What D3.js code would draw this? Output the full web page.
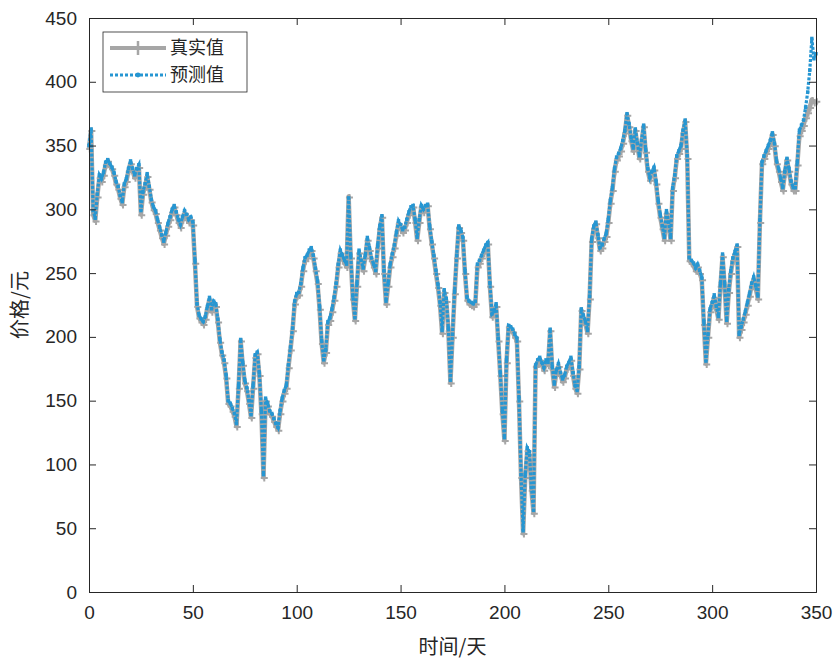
<!DOCTYPE html>
<html>
    <head>
        <meta charset="utf-8">
        <script src="https://cdnjs.cloudflare.com/ajax/libs/d3/7.8.5/d3.min.js"></script>
        <title>价格预测</title>
        <style>
            html, body {
                margin: 0;
                background: white;
            }
            .svg_canvas {
                display: block;
            }
            .tick text {
                font-family: "Liberation Sans", Arial, sans-serif;
                font-size: 19px;
                fill: #262626;
            }
            .cn {
                font-family: "Noto Sans CJK SC", sans-serif;
                font-size: 20px;
                fill: #262626;
            }
            .legend-text {
                font-family: "Noto Sans CJK SC", sans-serif;
                font-size: 18px;
                fill: #262626;
            }
        </style>
    </head>
    <body>
        <svg height="664" width="835" class="svg_canvas"></svg>

        <script>
            // daily values, day 0 .. 350
            var trueValues = [
                348, 362, 296, 291, 310, 325, 322, 327, 335, 338,
                334, 332, 327, 320, 316, 309, 304, 318, 322, 330,
                336, 330, 325, 330, 333, 296, 312, 318, 326, 316,
                306, 300, 297, 290, 284, 278, 273, 280, 287, 292,
                298, 302, 296, 290, 286, 292, 297, 294, 290, 292,
                288, 258, 224, 215, 212, 210, 214, 222, 229, 220,
                226, 224, 212, 196, 186, 180, 168, 148, 146, 142,
                138, 130, 160, 197, 178, 164, 158, 148, 137, 160,
                184, 187, 170, 140, 90, 150, 146, 140, 138, 134,
                130, 127, 140, 150, 156, 160, 176, 190, 205, 226,
                232, 233, 240, 252, 260, 262, 266, 268, 262, 252,
                242, 222, 195, 180, 188, 210, 213, 220, 229, 240,
                255, 266, 262, 258, 255, 310, 262, 230, 213, 240,
                266, 258, 252, 262, 276, 268, 260, 255, 250, 270,
                285, 294, 250, 226, 240, 255, 263, 270, 280, 289,
                286, 282, 284, 290, 296, 300, 302, 290, 276, 290,
                302, 298, 302, 303, 285, 273, 262, 250, 239, 225,
                203, 235, 228, 205, 164, 200, 234, 262, 286, 282,
                276, 250, 229, 226, 225, 224, 226, 255, 258, 262,
                266, 270, 273, 240, 216, 218, 224, 197, 170, 140,
                119, 180, 208, 206, 204, 200, 197, 150, 90, 46,
                90, 111, 108, 80, 62, 177, 180, 182, 178, 174,
                180, 178, 205, 175, 161, 172, 177, 170, 165, 168,
                175, 178, 182, 170, 160, 156, 175, 221, 215, 210,
                203, 230, 275, 285, 289, 278, 268, 270, 275, 279,
                290, 305, 315, 330, 339, 342, 346, 352, 360, 374,
                365, 354, 346, 362, 350, 340, 352, 365, 345, 330,
                323, 328, 331, 320, 305, 294, 285, 276, 297, 288,
                276, 315, 325, 340, 344, 348, 360, 369, 340, 260,
                258, 256, 252, 255, 250, 245, 210, 179, 200, 220,
                225, 231, 222, 214, 240, 263, 240, 211, 235, 250,
                260, 265, 271, 200, 206, 212, 218, 225, 232, 240,
                245, 238, 230, 290, 336, 340, 344, 348, 352, 359,
                350, 336, 330, 322, 315, 328, 339, 330, 320, 315,
                315, 335, 358, 362, 366, 372, 376, 380, 386, 384,
                385
            ];

            var predValues = [
                350, 363, 299, 293, 312, 327, 324, 329, 337, 339,
                336, 333, 329, 322, 318, 311, 306, 320, 324, 332,
                338, 332, 327, 332, 335, 299, 314, 320, 328, 318,
                308, 302, 299, 292, 286, 280, 275, 282, 289, 294,
                300, 303, 298, 292, 288, 294, 299, 296, 292, 294,
                290, 260, 226, 217, 214, 212, 216, 224, 231, 222,
                228, 226, 214, 198, 188, 182, 170, 150, 148, 144,
                140, 132, 162, 198, 180, 166, 160, 150, 139, 162,
                186, 188, 172, 142, 92, 152, 148, 142, 140, 136,
                132, 129, 142, 152, 158, 162, 178, 192, 207, 228,
                234, 235, 242, 254, 262, 264, 268, 270, 264, 254,
                244, 224, 197, 182, 190, 212, 215, 222, 231, 242,
                257, 268, 264, 260, 257, 309, 264, 232, 215, 242,
                268, 260, 254, 264, 278, 270, 262, 257, 252, 272,
                287, 295, 252, 228, 242, 257, 265, 272, 282, 291,
                288, 284, 286, 292, 298, 302, 303, 292, 278, 292,
                303, 300, 303, 304, 287, 275, 264, 252, 241, 227,
                205, 237, 230, 207, 166, 202, 236, 264, 287, 284,
                278, 252, 231, 228, 227, 226, 228, 257, 260, 264,
                268, 272, 274, 242, 218, 220, 226, 199, 172, 142,
                121, 182, 209, 208, 206, 202, 199, 152, 92, 48,
                92, 113, 110, 82, 64, 178, 182, 184, 180, 176,
                182, 180, 206, 177, 163, 174, 179, 172, 167, 170,
                177, 180, 184, 172, 162, 158, 177, 222, 217, 212,
                205, 232, 277, 287, 290, 280, 270, 272, 277, 281,
                292, 307, 317, 332, 341, 344, 348, 354, 362, 375,
                367, 356, 348, 363, 352, 342, 354, 366, 347, 332,
                325, 330, 333, 322, 307, 296, 287, 278, 299, 290,
                278, 317, 327, 342, 346, 350, 362, 370, 342, 262,
                260, 258, 254, 257, 252, 247, 212, 181, 202, 222,
                227, 233, 224, 216, 242, 265, 242, 213, 237, 252,
                262, 267, 272, 202, 208, 214, 220, 227, 234, 242,
                247, 240, 232, 292, 337, 342, 346, 350, 354, 360,
                352, 338, 332, 324, 317, 330, 340, 332, 322, 317,
                317, 337, 362, 366, 370, 380, 392, 409, 434, 418,
                422
            ];

            var xTicks = [0, 50, 100, 150, 200, 250, 300, 350];
            var yTicks = [0, 50, 100, 150, 200, 250, 300, 350, 400, 450];
            var seriesNames = ["真实值", "预测值"];

            var grayColor = "#a6a6a6";
            var blueColor = "#2696d2";
            var axisColor = "#262626";

            var margin = {top: 18, right: 19, bottom: 72, left: 89};
            var width = 835 - margin.left - margin.right;
            var height = 664 - margin.top - margin.bottom;

            var svg = d3.select("svg")
                .append("g")
                .attr("transform", "translate(" + margin.left + "," + margin.top + ")");

            var x = d3.scaleLinear().domain([0, 350]).range([0, width]);
            var y = d3.scaleLinear().domain([0, 450]).range([height, 0]);

            var line = d3.line()
                .x(function(d, i){ return x(i); })
                .y(function(d){ return y(d); });

            // true series: thick gray line with + markers
            svg.append("path")
                .datum(trueValues)
                .attr("d", line)
                .attr("fill", "none")
                .attr("stroke", grayColor)
                .attr("stroke-width", 4.5)
                .attr("stroke-linejoin", "round");

            svg.append("g")
                .selectAll("path")
                .data(trueValues)
                .enter()
                .append("path")
                .attr("d", "M-3.5,0H3.5M0,-3.5V3.5")
                .attr("transform", function(d, i){ return "translate(" + (x(i) + 0.8) + "," + (y(d) + 0.8) + ")"; })
                .attr("stroke", grayColor)
                .attr("stroke-width", 2);

            // predicted series: blue dotted line with point markers
            svg.append("path")
                .datum(predValues)
                .attr("d", line)
                .attr("fill", "none")
                .attr("stroke", blueColor)
                .attr("stroke-width", 3.2)
                .attr("stroke-dasharray", "3,1.6");

            svg.append("g")
                .selectAll("rect")
                .data(predValues)
                .enter()
                .append("rect")
                .attr("x", function(d, i){ return x(i) - 1.7; })
                .attr("y", function(d){ return y(d) - 1.7; })
                .attr("width", 3.4)
                .attr("height", 3.4)
                .attr("fill", blueColor);

            // axes, MATLAB style box with inward ticks
            svg.append("g")
                .attr("transform", "translate(0," + height + ")")
                .call(d3.axisBottom(x).tickValues(xTicks).tickSize(-7).tickPadding(14));
            svg.append("g")
                .call(d3.axisTop(x).tickValues(xTicks).tickSize(-7).tickFormat(""));
            svg.append("g")
                .call(d3.axisLeft(y).tickValues(yTicks).tickSize(-7).tickPadding(12));
            svg.append("g")
                .attr("transform", "translate(" + width + ",0)")
                .call(d3.axisRight(y).tickValues(yTicks).tickSize(-7).tickFormat(""));

            svg.selectAll(".domain").attr("stroke", axisColor).attr("stroke-width", 1);
            svg.selectAll(".tick line").attr("stroke", axisColor);
            svg.selectAll(".tick text").attr("fill", axisColor);

            // axis titles
            svg.append("text")
                .attr("class", "cn")
                .attr("x", width / 2)
                .attr("y", height + 62)
                .attr("text-anchor", "middle")
                .text("时间/天");

            svg.append("text")
                .attr("class", "cn")
                .attr("transform", "translate(-62," + (height / 2) + ") rotate(-90)")
                .attr("text-anchor", "middle")
                .text("价格/元");

            // legend
            var legend = svg.append("g").attr("transform", "translate(14,14)");
            legend.append("rect")
                .attr("width", 144)
                .attr("height", 60)
                .attr("fill", "white")
                .attr("stroke", axisColor)
                .attr("stroke-width", 0.8);

            var row1 = legend.append("g").attr("transform", "translate(0,16)");
            row1.append("line")
                .attr("x1", 7).attr("x2", 63)
                .attr("stroke", grayColor).attr("stroke-width", 4);
            row1.append("path")
                .attr("d", "M35,-7V7M29,0H41")
                .attr("stroke", grayColor).attr("stroke-width", 2.5);
            row1.append("text")
                .attr("class", "legend-text")
                .attr("x", 67).attr("y", 6)
                .text(seriesNames[0]);

            var row2 = legend.append("g").attr("transform", "translate(0,43)");
            row2.append("line")
                .attr("x1", 7).attr("x2", 63)
                .attr("stroke", blueColor).attr("stroke-width", 2.8)
                .attr("stroke-dasharray", "3,2");
            row2.append("circle")
                .attr("cx", 35).attr("r", 2.4)
                .attr("fill", blueColor);
            row2.append("text")
                .attr("class", "legend-text")
                .attr("x", 67).attr("y", 6)
                .text(seriesNames[1]);
        </script>
    </body>
</html>
